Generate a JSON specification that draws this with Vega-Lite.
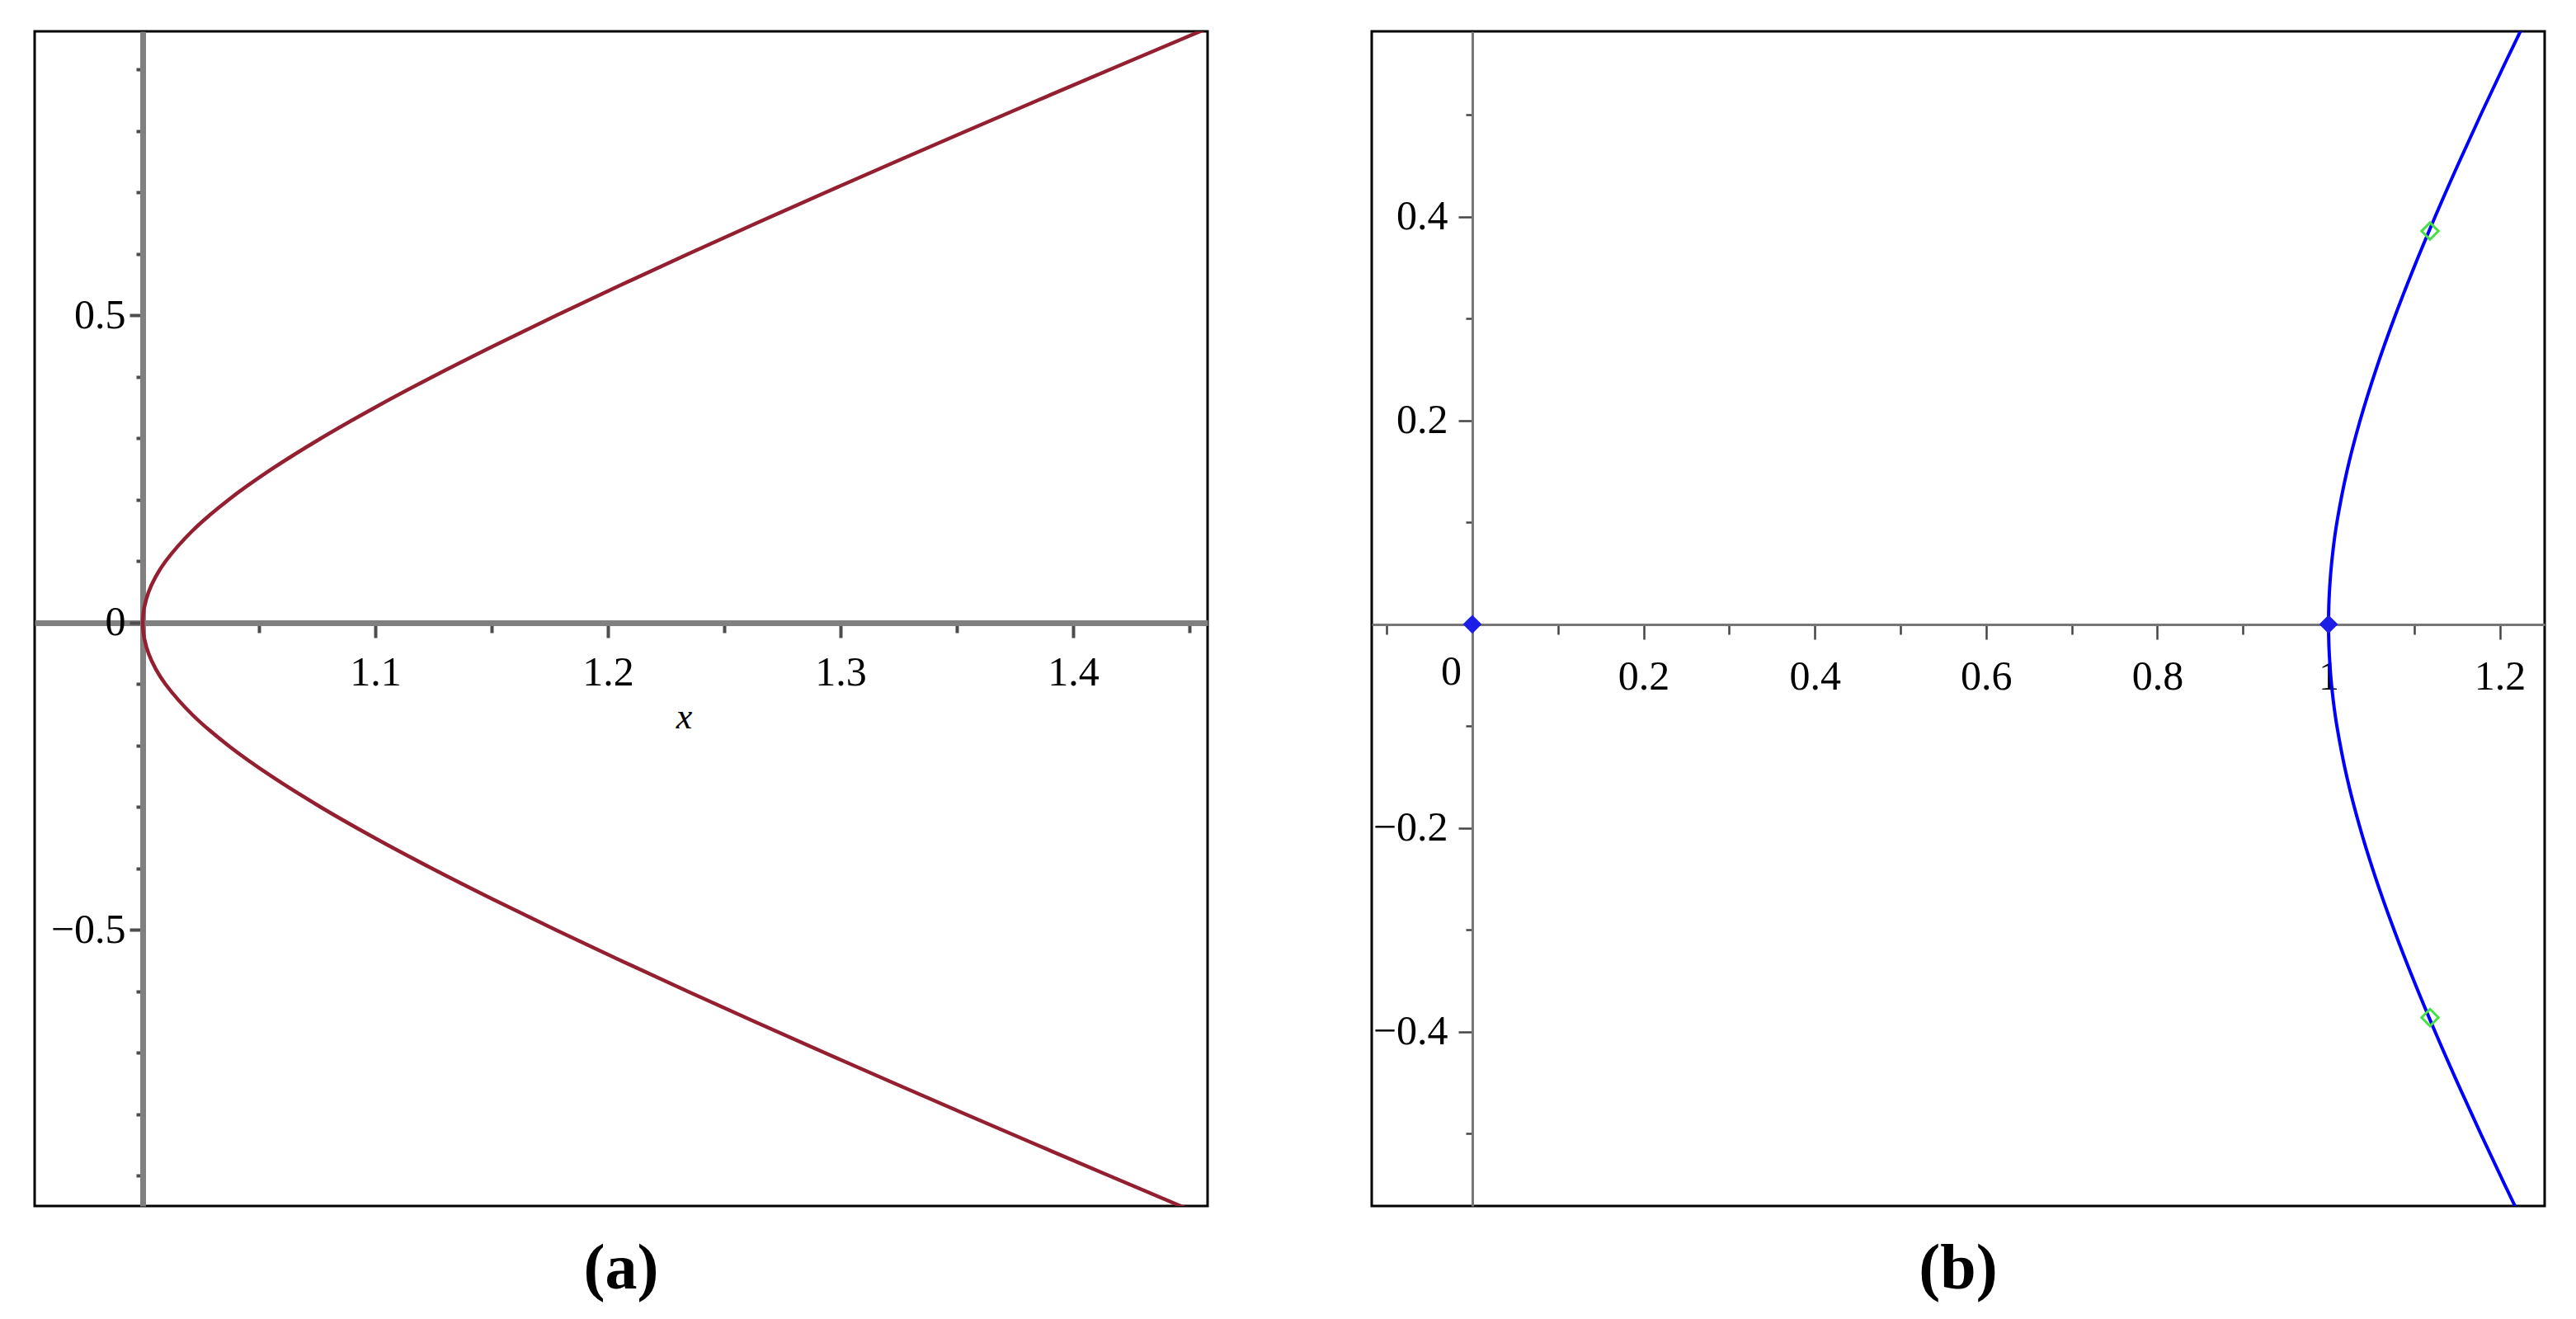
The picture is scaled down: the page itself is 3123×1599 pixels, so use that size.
{
  "$schema": "https://vega.github.io/schema/vega-lite/v6.json",
  "background": "white",
  "padding": {"left": 40, "top": 36, "right": 0, "bottom": 0},
  "spacing": 195,
  "config": {
    "view": {"stroke": "black", "strokeWidth": 3},
    "axis": {"grid": false, "labelFont": "Liberation Serif", "labelFontSize": 50, "labelColor": "black", "labelFlush": false, "labelOverlap": false, "labelBound": false, "format": "~g"},
    "title": {"orient": "bottom", "font": "Liberation Serif", "fontSize": 78, "fontWeight": "bold", "color": "black", "offset": 38, "anchor": "middle"}
  },
  "datasets": {
    "curve": [
      {"x": 1.478205, "y": -1.0}, {"x": 1.446844, "y": -0.95}, {"x": 1.415661, "y": -0.9}, {"x": 1.384685, "y": -0.85},
      {"x": 1.353951, "y": -0.8}, {"x": 1.323497, "y": -0.75}, {"x": 1.293377, "y": -0.7}, {"x": 1.263648, "y": -0.65},
      {"x": 1.234392, "y": -0.6}, {"x": 1.205704, "y": -0.55}, {"x": 1.177709, "y": -0.5}, {"x": 1.150561, "y": -0.45},
      {"x": 1.124463, "y": -0.4}, {"x": 1.099671, "y": -0.35}, {"x": 1.076512, "y": -0.3}, {"x": 1.055398, "y": -0.25},
      {"x": 1.036835, "y": -0.2}, {"x": 1.021413, "y": -0.15}, {"x": 1.009764, "y": -0.1}, {"x": 1.005544, "y": -0.075},
      {"x": 1.002482, "y": -0.05}, {"x": 1.000623, "y": -0.025}, {"x": 1.000156, "y": -0.0125}, {"x": 1.0, "y": 0},
      {"x": 1.000156, "y": 0.0125}, {"x": 1.000623, "y": 0.025}, {"x": 1.002482, "y": 0.05}, {"x": 1.005544, "y": 0.075},
      {"x": 1.009764, "y": 0.1}, {"x": 1.021413, "y": 0.15}, {"x": 1.036835, "y": 0.2}, {"x": 1.055398, "y": 0.25},
      {"x": 1.076512, "y": 0.3}, {"x": 1.099671, "y": 0.35}, {"x": 1.124463, "y": 0.4}, {"x": 1.150561, "y": 0.45},
      {"x": 1.177709, "y": 0.5}, {"x": 1.205704, "y": 0.55}, {"x": 1.234392, "y": 0.6}, {"x": 1.263648, "y": 0.65},
      {"x": 1.293377, "y": 0.7}, {"x": 1.323497, "y": 0.75}, {"x": 1.353951, "y": 0.8}, {"x": 1.384685, "y": 0.85},
      {"x": 1.415661, "y": 0.9}, {"x": 1.446844, "y": 0.95}, {"x": 1.478205, "y": 1.0}
    ],
    "pts": [
      {"x": 0, "y": 0, "kind": "root"},
      {"x": 1, "y": 0, "kind": "root"},
      {"x": 1.1185, "y": 0.386, "kind": "crit"},
      {"x": 1.1185, "y": -0.386, "kind": "crit"}
    ]
  },
  "hconcat": [
    {
      "title": {"text": "(a)"},
      "width": 1422,
      "height": 1424,
      "data": {"name": "curve"},
      "mark": {"type": "line", "color": "#941f30", "strokeWidth": 4.5, "clip": true, "interpolate": "catmull-rom"},
      "encoding": {
        "x": {
          "field": "x", "type": "quantitative",
          "scale": {"domain": [0.9535, 1.4578], "nice": false, "zero": false},
          "axis": {
            "orient": "bottom", "offset": -707,
            "values": [1.05, 1.1, 1.15, 1.2, 1.25, 1.3, 1.35, 1.4, 1.45],
            "labelExpr": "(datum.value==1.1||datum.value==1.2||datum.value==1.3||datum.value==1.4) ? datum.label : ''",
            "tickSize": {"condition": {"test": "datum.value==1.1||datum.value==1.2||datum.value==1.3||datum.value==1.4", "value": 18}, "value": 12},
            "tickColor": "#4d4d4d", "tickWidth": 4,
            "domainColor": "#808080", "domainWidth": 7,
            "labelPadding": 17,
            "title": "x", "titleFont": "Liberation Serif", "titleFontSize": 44, "titleFontStyle": "italic", "titleFontWeight": "normal",
            "titleX": 787, "titleY": 127, "titleBaseline": "alphabetic", "titleAlign": "center", "titleColor": "black"
          }
        },
        "y": {
          "field": "y", "type": "quantitative",
          "scale": {"domain": [-0.949, 0.9624], "nice": false, "zero": false},
          "axis": {
            "orient": "left", "offset": -131,
            "values": [-0.9, -0.8, -0.7, -0.6, -0.5, -0.4, -0.3, -0.2, -0.1, 0, 0.1, 0.2, 0.3, 0.4, 0.5, 0.6, 0.7, 0.8, 0.9],
            "labelExpr": "(datum.value==0.5||datum.value==-0.5||datum.value==0) ? datum.label : ''",
            "tickSize": {"condition": {"test": "datum.value==0.5||datum.value==-0.5||datum.value==0", "value": 16}, "value": 8},
            "tickColor": "#4d4d4d", "tickWidth": 4,
            "domainColor": "#808080", "domainWidth": 7,
            "labelPadding": 5,
            "title": null
          }
        },
        "order": {"field": "y", "type": "quantitative"}
      }
    },
    {
      "title": {"text": "(b)"},
      "width": 1422,
      "height": 1424,
      "layer": [
        {
          "data": {"name": "curve"},
          "mark": {"type": "line", "color": "#0000ff", "strokeWidth": 4, "clip": true, "interpolate": "catmull-rom"},
          "encoding": {
            "x": {
              "field": "x", "type": "quantitative",
              "scale": {"domain": [-0.1175, 1.2524], "nice": false, "zero": false},
              "axis": {
                "orient": "bottom", "offset": -705,
                "values": [-0.1, 0, 0.1, 0.2, 0.3, 0.4, 0.5, 0.6, 0.7, 0.8, 0.9, 1, 1.1, 1.2],
                "labelExpr": "(datum.value==0||datum.value==0.2||datum.value==0.4||datum.value==0.6||datum.value==0.8||datum.value==1||datum.value==1.2) ? datum.label : ''",
                "tickSize": {"condition": {"test": "datum.value==0.2||datum.value==0.4||datum.value==0.6||datum.value==0.8||datum.value==1||datum.value==1.2", "value": 18}, "value": 12},
                "labelOffset": {"condition": {"test": "datum.value==0", "value": -26}, "value": 0},
                "tickColor": "#444444", "tickWidth": 2.5,
                "domainColor": "#777777", "domainWidth": 3,
                "labelPadding": 20,
                "title": null
              }
            },
            "y": {
              "field": "y", "type": "quantitative",
              "scale": {"domain": [-0.571, 0.582], "nice": false, "zero": false},
              "axis": {
                "orient": "left", "offset": -122,
                "values": [-0.5, -0.4, -0.3, -0.2, -0.1, 0.1, 0.2, 0.3, 0.4, 0.5],
                "labelExpr": "(datum.value==0.2||datum.value==0.4||datum.value==-0.2||datum.value==-0.4) ? datum.label : ''",
                "tickSize": {"condition": {"test": "datum.value==0.2||datum.value==0.4||datum.value==-0.2||datum.value==-0.4", "value": 17}, "value": 8},
                "tickColor": "#444444", "tickWidth": 2.5,
                "domainColor": "#777777", "domainWidth": 3,
                "labelPadding": 13,
                "title": null
              }
            },
            "order": {"field": "y", "type": "quantitative"}
          }
        },
        {
          "data": {"name": "pts"},
          "transform": [{"filter": "datum.kind == 'root'"}],
          "mark": {"type": "point", "shape": "diamond", "filled": true, "size": 520, "color": "#1d1de8", "opacity": 1},
          "encoding": {
            "x": {"field": "x", "type": "quantitative"},
            "y": {"field": "y", "type": "quantitative"}
          }
        },
        {
          "data": {"name": "pts"},
          "transform": [{"filter": "datum.kind == 'crit'"}],
          "mark": {"type": "point", "shape": "diamond", "filled": false, "size": 420, "strokeWidth": 3, "color": "#44e044", "opacity": 1},
          "encoding": {
            "x": {"field": "x", "type": "quantitative"},
            "y": {"field": "y", "type": "quantitative"}
          }
        }
      ]
    }
  ]
}
